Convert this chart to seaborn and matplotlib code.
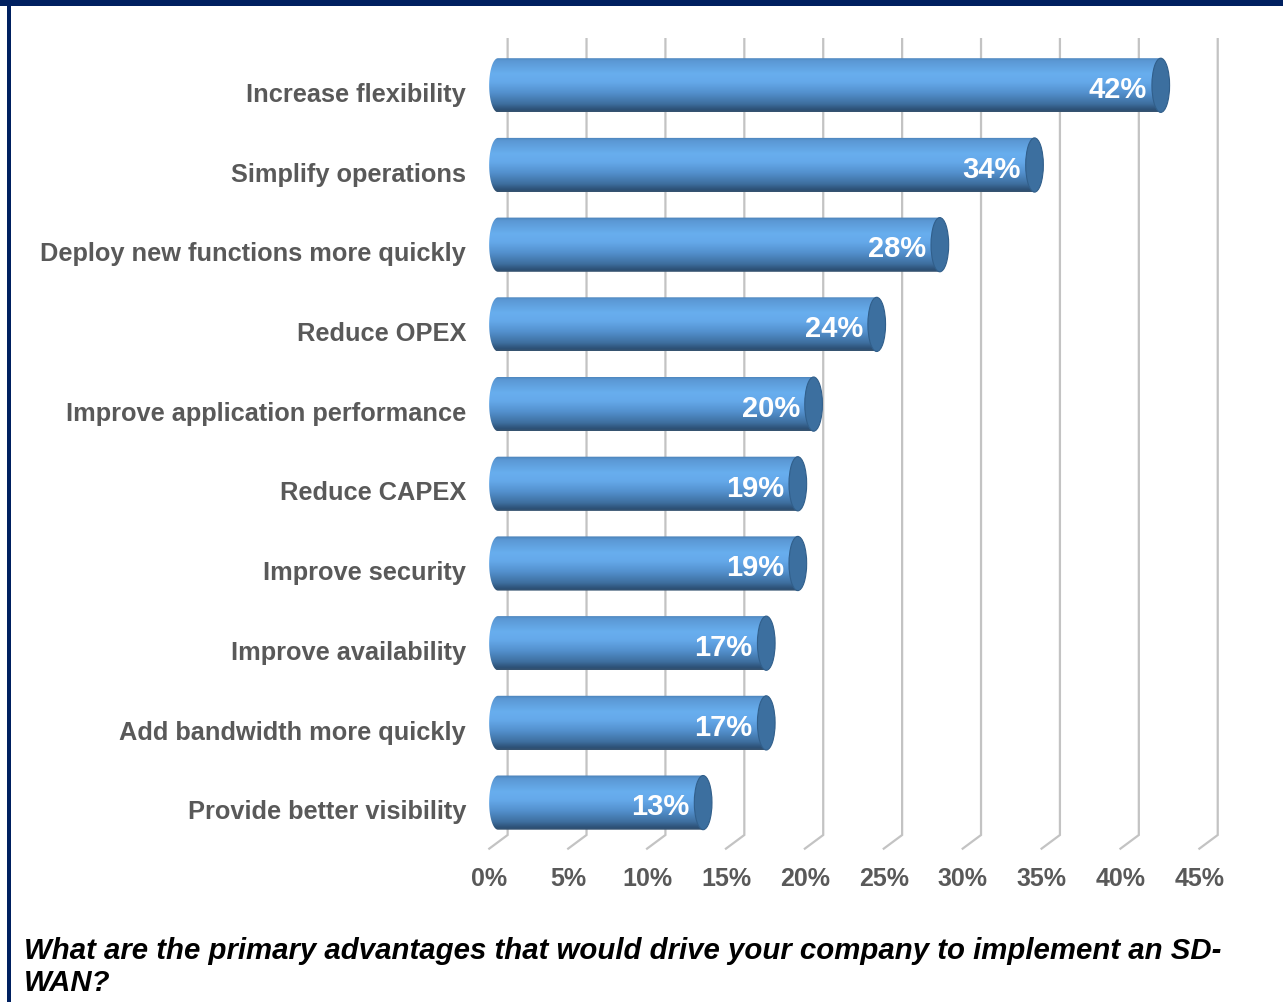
import numpy as np
import pandas as pd
import matplotlib
matplotlib.use("Agg")
import matplotlib.pyplot as plt
from matplotlib.path import Path
from matplotlib.patches import PathPatch, Ellipse, Rectangle
from matplotlib.colors import LinearSegmentedColormap
import seaborn as sns

# Survey results: share of respondents citing each advantage
categories = [
    "Increase flexibility",
    "Simplify operations",
    "Deploy new functions more quickly",
    "Reduce OPEX",
    "Improve application performance",
    "Reduce CAPEX",
    "Improve security",
    "Improve availability",
    "Add bandwidth more quickly",
    "Provide better visibility",
]
values = [42, 34, 28, 24, 20, 19, 19, 17, 17, 13]
tick_values = [0, 5, 10, 15, 20, 25, 30, 35, 40, 45]
tick_labels = [f"{t}%" for t in tick_values]
caption = ("What are the primary advantages that would drive your company "
           "to implement an SD-\nWAN?")

sns.set_theme(style="white")
plt.rcParams["font.family"] = ["Liberation Sans", "DejaVu Sans"]

W, H = 1283, 1002
fig = plt.figure(figsize=(W / 100, H / 100), dpi=100)
fig.patch.set_facecolor("white")

# axes placed in pixel terms
ax_l, ax_r, ax_t, ax_b = 480, 1240, 30, 860
ax = fig.add_axes([ax_l / W, 1 - ax_b / H, (ax_r - ax_l) / W, (ax_b - ax_t) / H])

df = pd.DataFrame({"advantage": categories, "share": values})
bar_h = 0.68
sns.barplot(data=df, x="share", y="advantage", orient="h", width=bar_h,
            color="#5b9bd5", ax=ax)

px_per_unit = 15.78
x0_px = 498
xmin = (ax_l - x0_px) / px_per_unit
xmax = (ax_r - x0_px) / px_per_unit
row_px, row0_px = 79.7, 85.3
ymin = (ax_t - row0_px) / row_px
ymax = (ax_b - row0_px) / row_px

depth = 0.61          # half depth of the 3-D plot box, in x units
ydepth = 0.09         # matching vertical shift, in row units
cap_a = 0.56          # half width of the cylinder end ellipse

# 3-D style gridlines: back wall lines plus floor diagonals
grid_top = (38 - row0_px) / row_px
grid_back = (835 - row0_px) / row_px
grid_front = (849.3 - row0_px) / row_px
for t in tick_values:
    ax.plot([t + depth, t + depth, t - depth],
            [grid_top, grid_back, grid_front],
            color="#c3c3c3", lw=1.6, zorder=0, solid_capstyle="butt",
            solid_joinstyle="miter")

# cylinder shading
grad = LinearSegmentedColormap.from_list("cyl", [
    (0.00, "#4a7fb5"), (0.06, "#5a97d3"), (0.30, "#68aeee"),
    (0.45, "#65a9ea"), (0.65, "#5390cd"), (0.85, "#3e6f9f"),
    (0.96, "#2c4f74"), (1.00, "#3a5570")])
gimg = np.linspace(0, 1, 256).reshape(-1, 1)

for patch in list(ax.patches):
    x = patch.get_x()
    v = patch.get_width()
    y_top = patch.get_y()
    h = patch.get_height()
    yc = y_top + h / 2
    patch.set_visible(False)

    th = np.linspace(np.pi / 2, 3 * np.pi / 2, 60)
    arc = np.column_stack([x + cap_a * np.cos(th), yc + (h / 2) * np.sin(th)])
    verts = np.vstack([[[x, yc - h / 2], [x + v, yc - h / 2],
                        [x + v, yc + h / 2], [x, yc + h / 2]], arc,
                       [[x, yc - h / 2]]])
    body = PathPatch(Path(verts, closed=True), facecolor="none",
                     edgecolor="none", transform=ax.transData)
    ax.add_patch(body)
    im = ax.imshow(gimg, cmap=grad, aspect="auto", origin="upper",
                   extent=(x - cap_a, x + v, yc + h / 2, yc - h / 2),
                   zorder=2, interpolation="bicubic")
    im.set_clip_path(body)

    cap = Ellipse((x + v, yc), width=2 * cap_a, height=h,
                  facecolor="#3c6f9f", edgecolor="#315f8b", lw=0.8, zorder=3)
    ax.add_patch(cap)

    ax.text(x + v - cap_a - 0.3, yc + 0.06, f"{v:.0f}%", ha="right",
            va="center", color="white", fontsize=21, fontweight="bold",
            zorder=4)

ax.set_xlim(xmin, xmax)
ax.set_ylim(ymax, ymin)

ax.set_xticks([t - 0.55 for t in tick_values], labels=tick_labels)
ax.set_yticks(np.arange(len(categories)) + ydepth, labels=categories)
ax.tick_params(axis="both", length=0, colors="#595959")
ax.tick_params(axis="x", pad=5, labelsize=18)
ax.tick_params(axis="y", pad=10, labelsize=18.3)
for lab in ax.get_xticklabels() + ax.get_yticklabels():
    lab.set_fontweight("bold")
    lab.set_color("#595959")
ax.set_xlabel("")
ax.set_ylabel("")
ax.grid(False)
for s in ax.spines.values():
    s.set_visible(False)
ax.set_facecolor("none")

# frame: navy band along the top and a rule down the left side
navy = "#002060"
fig.patches.append(Rectangle((0, 1 - 6 / H), 1, 6 / H, transform=fig.transFigure,
                             facecolor=navy, edgecolor="none"))
fig.patches.append(Rectangle((7 / W, 0), 4 / W, 1, transform=fig.transFigure,
                             facecolor=navy, edgecolor="none"))

fig.text(24 / W, 1 - 937 / H, caption, ha="left", va="top", fontsize=21.2,
         fontweight="bold", fontstyle="italic", color="black", linespacing=1.2)

fig.savefig("out.png", dpi=100)
